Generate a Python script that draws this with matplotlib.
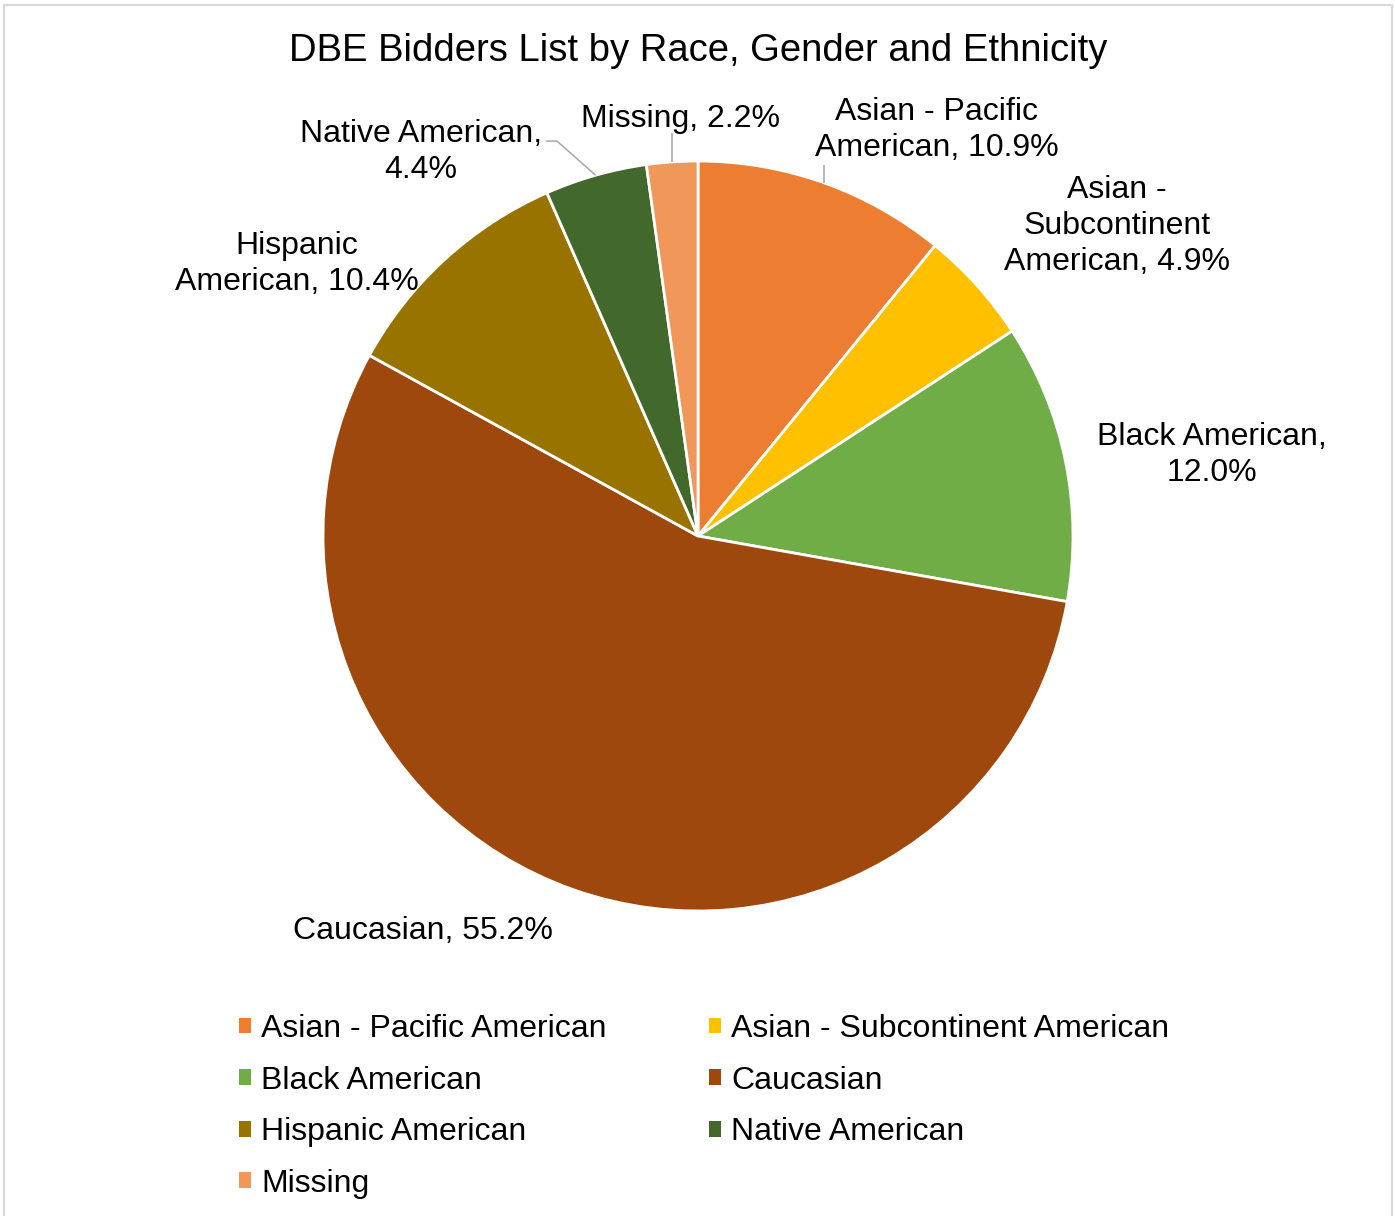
import matplotlib
matplotlib.use("Agg")
import numpy as np
import matplotlib.pyplot as plt
from matplotlib.patches import Patch, Rectangle

plt.rcParams['font.family'] = ['Liberation Sans', 'DejaVu Sans']

# Share of DBE bidders by group (percent)
categories = [
    "Asian - Pacific American",
    "Asian - Subcontinent American",
    "Black American",
    "Caucasian",
    "Hispanic American",
    "Native American",
    "Missing",
]
shares = [10.9, 4.9, 12.0, 55.2, 10.4, 4.4, 2.2]
slice_labels = [
    "Asian - Pacific\nAmerican",
    "Asian -\nSubcontinent\nAmerican",
    "Black American,\n",
    "Caucasian",
    "Hispanic\nAmerican",
    "Native American,\n",
    "Missing",
]
colors = ["#ED7D31", "#FFC000", "#70AD47", "#9E480E", "#997300", "#43682B", "#F1975A"]

W, H = 1395, 1216
fig = plt.figure(figsize=(W / 100, H / 100), dpi=100)

# chart area border
fig.patches.append(Rectangle((3.5 / W, -0.02), (W - 7) / W, 1.02 - 4.5 / H,
                             transform=fig.transFigure, fill=False,
                             edgecolor="#D9D9D9", linewidth=1.6))

fig.text(698.5 / W, 1 - 51 / H, "DBE Bidders List by Race, Gender and Ethnicity",
         ha="center", va="center", fontsize=27.5, color="black")

# pie: centre (698, 536) px, radius 375 px
cx, cy, r = 698, 536, 375
ax = fig.add_axes([(cx - r) / W, (H - cy - r) / H, 2 * r / W, 2 * r / H])
wedges, _ = ax.pie(shares, colors=colors, startangle=90, counterclock=False,
                   wedgeprops=dict(edgecolor="white", linewidth=2.0))
ax.set_xlim(-1, 1)
ax.set_ylim(-1, 1)
ax.set_aspect("equal")
ax.axis("off")

# data-label placement (pie-radius units)
label_pos = [
    (0.637, 1.082),
    (1.117, 0.826),
    (1.371, 0.216),
    (-0.733, -1.053),
    (-1.069, 0.726),
    (-0.739, 1.023),
    (-0.047, 1.111),
]
for lab, val, (lx, ly) in zip(slice_labels, shares, label_pos):
    if lab.endswith("\n"):
        text = f"{lab}{val:.1f}%"
    else:
        text = f"{lab}, {val:.1f}%"
    ax.text(lx, ly, text, ha="center", va="center", fontsize=23,
            color="black", linespacing=1.26, clip_on=False)

# leader lines from slice edge to label
leader_paths = {
    0: [(None, 0.989)],
    5: [(-0.376, 1.053), (-0.405, 1.053)],
    6: [(None, 1.075)],
}
for idx, pts in leader_paths.items():
    w = wedges[idx]
    mid = np.deg2rad((w.theta1 + w.theta2) / 2)
    ex, ey = np.cos(mid), np.sin(mid)
    xs, ys = [ex], [ey]
    for px, py in pts:
        xs.append(ex if px is None else px)
        ys.append(py)
    ax.plot(xs, ys, color="#A6A6A6", linewidth=1.1, clip_on=False,
            solid_capstyle="butt")

# legend, filled row by row across two columns
handles = [Patch(facecolor=c, edgecolor="none") for c in colors]
order = [0, 2, 4, 6, 1, 3, 5]
fig.legend([handles[i] for i in order], [categories[i] for i in order],
           ncol=2, loc="upper left", bbox_to_anchor=(239 / W, 1 - 1014 / H),
           frameon=False, fontsize=23, handlelength=0.38, handleheight=0.38,
           handletextpad=0.32, columnspacing=3.2, labelspacing=0.675,
           borderpad=0, borderaxespad=0)

fig.savefig("out.png", dpi=100, facecolor="white")
